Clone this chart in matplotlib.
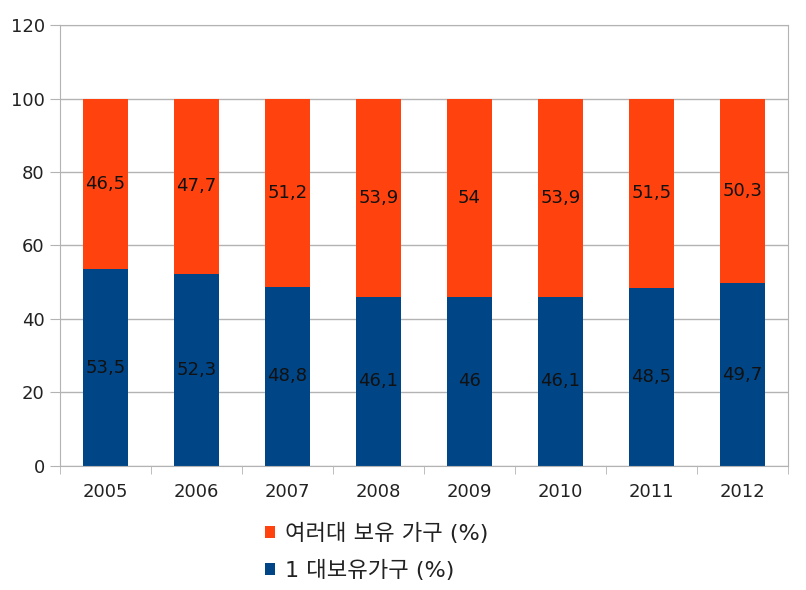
import matplotlib.pyplot as plt
import numpy as np

plt.rcParams['font.family'] = ['DejaVu Sans', 'Noto Sans CJK KR']

years = ['2005', '2006', '2007', '2008', '2009', '2010', '2011', '2012']
one_car = [53.5, 52.3, 48.8, 46.1, 46, 46.1, 48.5, 49.7]
multi_car = [46.5, 47.7, 51.2, 53.9, 54, 53.9, 51.5, 50.3]

blue = '#004586'
orange = '#ff420e'

fig = plt.figure(figsize=(8.06, 5.90), dpi=100)
ax = fig.add_axes([0.0744, 0.2102, 0.9033, 0.7474])

x = np.arange(len(years))
b1 = ax.bar(x, one_car, width=0.5, color=blue, label='1 대보유가구 (%)', zorder=2)
b2 = ax.bar(x, multi_car, width=0.5, bottom=one_car, color=orange,
            label='여러대 보유 가구 (%)', zorder=2)

def fmt(v):
    return ('%g' % v).replace('.', ',')

for i in range(len(years)):
    ax.text(x[i], one_car[i] / 2, fmt(one_car[i]), ha='center', va='center',
            fontsize=13, color='#111111', zorder=3)
    ax.text(x[i], one_car[i] + multi_car[i] / 2, fmt(multi_car[i]), ha='center',
            va='center', fontsize=13, color='#111111', zorder=3)

ax.set_xlim(-0.5, len(years) - 0.5)
ax.set_ylim(0, 120)
ax.set_yticks(range(0, 121, 20))
ax.yaxis.grid(True, color='#b3b3b3', linewidth=1, zorder=0)
ax.set_xticks(x)
ax.set_xticklabels(years)
ax.set_xticks(np.arange(-0.5, len(years), 1), minor=True)
ax.tick_params(axis='x', which='major', length=0, pad=12, labelsize=13, labelcolor='#222222')
ax.tick_params(axis='x', which='minor', length=6, color='#b3b3b3', direction='out')
ax.tick_params(axis='y', length=7, color='#b3b3b3', labelsize=13, pad=4, labelcolor='#222222')
for s in ax.spines.values():
    s.set_color('#b3b3b3')

h, l = ax.get_legend_handles_labels()
fig.legend(h[::-1], l[::-1], loc='upper left', bbox_to_anchor=(265 / 806, 1 - 523 / 590),
           ncol=1, frameon=False, fontsize=16, handlelength=0.45, handleheight=0.45,
           handletextpad=0.45, labelspacing=0.7, borderpad=0, borderaxespad=0,
           labelcolor='#222222')

fig.savefig('out.png', dpi=100)
